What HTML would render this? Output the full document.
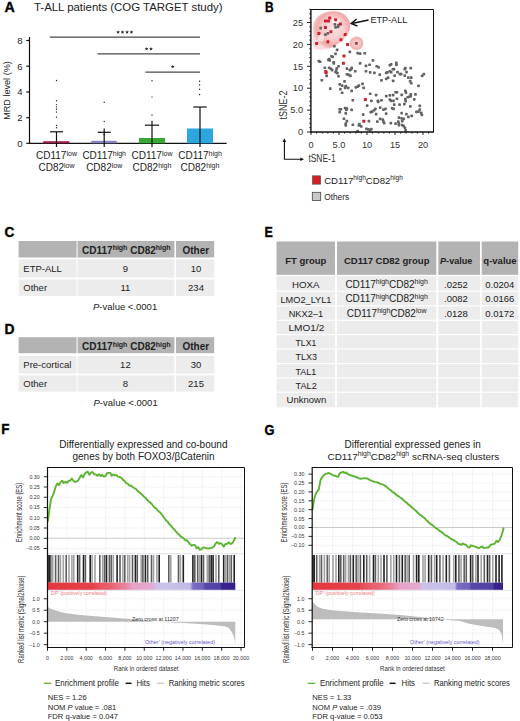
<!DOCTYPE html>
<html><head><meta charset="utf-8">
<style>
html,body{margin:0;padding:0;background:#fff;}
svg{display:block;}
svg{fill:#222;}
text{font-family:"Liberation Sans",sans-serif;}
.b{font-weight:bold;}
.pl{fill:#000;stroke:#000;stroke-width:0.35;}
</style></head><body>
<svg width="520" height="721" viewBox="0 0 520 721">
<!-- PANEL A -->
<g id="A">
<text x="4.4" y="11.9" class="b pl" font-size="14" textLength="10.3" lengthAdjust="spacingAndGlyphs">A</text>
<text x="34" y="10.6" font-size="11" textLength="188.5" lengthAdjust="spacingAndGlyphs">T-ALL patients (COG TARGET study)</text>
<g stroke="#111" stroke-width="1.2" fill="none">
<line x1="29.5" y1="37" x2="29.5" y2="144"/>
<line x1="29" y1="143.4" x2="226.6" y2="143.4"/>
<line x1="26.3" y1="40.5" x2="29.5" y2="40.5"/>
<line x1="26.3" y1="66.2" x2="29.5" y2="66.2"/>
<line x1="26.3" y1="92" x2="29.5" y2="92"/>
<line x1="26.3" y1="117.7" x2="29.5" y2="117.7"/>
<line x1="26.3" y1="143.3" x2="29.5" y2="143.3"/>
</g>
<g font-size="9.5" text-anchor="end">
<text x="22.5" y="43.8">8</text>
<text x="22.5" y="69.5">6</text>
<text x="22.5" y="95.3">4</text>
<text x="22.5" y="121">2</text>
<text x="22.5" y="146.6">0</text>
</g>
<text transform="translate(10.1,90.5) rotate(-90)" font-size="9.3" text-anchor="middle" textLength="58.5" lengthAdjust="spacingAndGlyphs">MRD level (%)</text>
<!-- bars -->
<rect x="43.2" y="141.2" width="26.2" height="2.1" fill="#9e1f4c"/>
<rect x="91.2" y="140.8" width="25.6" height="2.5" fill="#8585c6"/>
<rect x="139" y="138" width="26" height="5.3" fill="#39a935"/>
<rect x="187" y="128.5" width="26" height="14.8" fill="#2ba6df"/>
<!-- error bars -->
<g stroke="#111" stroke-width="1.2">
<line x1="56.5" y1="131.8" x2="56.5" y2="147"/><line x1="50" y1="131.8" x2="63" y2="131.8"/>
<line x1="104.2" y1="128.5" x2="104.2" y2="147"/><line x1="97.7" y1="132.3" x2="110.8" y2="132.3"/>
<line x1="152" y1="120.8" x2="152" y2="147"/><line x1="145" y1="125.2" x2="159" y2="125.2"/>
<line x1="200" y1="107" x2="200" y2="147"/><line x1="193.3" y1="107" x2="206.7" y2="107"/>
</g>
<!-- dots -->
<g fill="#222">
<circle cx="56.5" cy="80.5" r="0.7"/><circle cx="56.5" cy="100.8" r="0.7"/><circle cx="56.5" cy="104.6" r="0.7"/><circle cx="56.5" cy="106.9" r="0.7"/><circle cx="56.5" cy="109.2" r="0.7"/><circle cx="56.5" cy="112" r="0.7"/><circle cx="56.5" cy="117" r="0.7"/><circle cx="56.5" cy="125.4" r="0.7"/><circle cx="56.5" cy="127.7" r="0.7"/>
<circle cx="104.2" cy="102.3" r="0.7"/><circle cx="104.2" cy="121.5" r="0.7"/><circle cx="104.2" cy="134.6" r="0.9"/>
<circle cx="152" cy="80.8" r="0.7"/><circle cx="152" cy="97.1" r="0.7"/><circle cx="152" cy="115" r="0.7"/>
<circle cx="199.6" cy="81.3" r="0.7"/><circle cx="199.6" cy="85" r="0.7"/><circle cx="199.6" cy="89.3" r="0.7"/><circle cx="199.6" cy="94.5" r="0.7"/>
</g>
<!-- significance -->
<g stroke="#4a4a4a" stroke-width="1.3">
<line x1="49.8" y1="37.1" x2="200" y2="37.1"/>
<line x1="97.5" y1="53.8" x2="200" y2="53.8"/>
<line x1="145.4" y1="72.1" x2="200" y2="72.1"/>
</g>
<g fill="#222"><polygon points="118.10,30.20 118.60,31.51 120.00,31.58 118.91,32.46 119.28,33.82 118.10,33.05 116.92,33.82 117.29,32.46 116.20,31.58 117.60,31.51"/><polygon points="122.50,30.20 123.00,31.51 124.40,31.58 123.31,32.46 123.68,33.82 122.50,33.05 121.32,33.82 121.69,32.46 120.60,31.58 122.00,31.51"/><polygon points="127.10,30.20 127.60,31.51 129.00,31.58 127.91,32.46 128.28,33.82 127.10,33.05 125.92,33.82 126.29,32.46 125.20,31.58 126.60,31.51"/><polygon points="131.40,30.20 131.90,31.51 133.30,31.58 132.21,32.46 132.58,33.82 131.40,33.05 130.22,33.82 130.59,32.46 129.50,31.58 130.90,31.51"/><polygon points="146.60,46.90 147.10,48.21 148.50,48.28 147.41,49.16 147.78,50.52 146.60,49.75 145.42,50.52 145.79,49.16 144.70,48.28 146.10,48.21"/><polygon points="151.00,46.90 151.50,48.21 152.90,48.28 151.81,49.16 152.18,50.52 151.00,49.75 149.82,50.52 150.19,49.16 149.10,48.28 150.50,48.21"/><polygon points="172.70,64.70 173.20,66.01 174.60,66.08 173.51,66.96 173.88,68.32 172.70,67.55 171.52,68.32 171.89,66.96 170.80,66.08 172.20,66.01"/></g>
<!-- x labels -->
<g font-size="10" text-anchor="middle">
<text x="56.5" y="159.3">CD117<tspan font-size="7" dy="-3.6">low</tspan></text>
<text x="56.5" y="171.3">CD82<tspan font-size="7" dy="-3.6">low</tspan></text>
<text x="104.2" y="159.3">CD117<tspan font-size="7" dy="-3.6">high</tspan></text>
<text x="104.2" y="171.3">CD82<tspan font-size="7" dy="-3.6">low</tspan></text>
<text x="152" y="159.3">CD117<tspan font-size="7" dy="-3.6">low</tspan></text>
<text x="152" y="171.3">CD82<tspan font-size="7" dy="-3.6">high</tspan></text>
<text x="200" y="159.3">CD117<tspan font-size="7" dy="-3.6">high</tspan></text>
<text x="200" y="171.3">CD82<tspan font-size="7" dy="-3.6">high</tspan></text>
</g>
</g>

<!-- PANEL C -->
<g id="C">
<text x="4.5" y="237.4" class="b pl" font-size="13.8" textLength="9.8" lengthAdjust="spacingAndGlyphs">C</text>
<g fill="#b3b3b3">
<rect x="18.6" y="241" width="58" height="16.5"/>
<rect x="77.6" y="241" width="96.8" height="16.5"/>
<rect x="176" y="241" width="38.2" height="16.5"/>
</g>
<g fill="#ececec">
<rect x="18.6" y="259.3" width="58" height="18.3"/>
<rect x="77.6" y="259.3" width="96.8" height="18.3"/>
<rect x="176" y="259.3" width="38.2" height="18.3"/>
<rect x="18.6" y="279.5" width="58" height="16.5"/>
<rect x="77.6" y="279.5" width="96.8" height="16.5"/>
<rect x="176" y="279.5" width="38.2" height="16.5"/>
</g>
<g font-size="10" class="b" text-anchor="middle">
<text x="126.3" y="253.7">CD117<tspan font-size="7" dy="-3.6">high</tspan><tspan dy="3.6"> CD82</tspan><tspan font-size="7" dy="-3.6">high</tspan></text>
<text x="195.8" y="253.7">Other</text>
</g>
<g font-size="9.5">
<text x="23.3" y="271.9">ETP-ALL</text>
<text x="23.3" y="290.6">Other</text>
</g>
<g font-size="9.5" text-anchor="middle">
<text x="125.4" y="271.9">9</text><text x="196" y="271.9">10</text>
<text x="125.4" y="290.6">11</text><text x="196" y="290.6">234</text>
</g>
<text x="93" y="310.2" font-size="9.5"><tspan font-style="italic">P</tspan>-value &lt;.0001</text>
</g>
<!-- PANEL D -->
<g id="D">
<text x="4.6" y="333.8" class="b pl" font-size="13.8" textLength="10" lengthAdjust="spacingAndGlyphs">D</text>
<g fill="#b3b3b3">
<rect x="18.6" y="337.2" width="58" height="16"/>
<rect x="77.6" y="337.2" width="96.8" height="16"/>
<rect x="176" y="337.2" width="38.2" height="16"/>
</g>
<g fill="#ececec">
<rect x="18.6" y="356" width="58" height="17.5"/>
<rect x="77.6" y="356" width="96.8" height="17.5"/>
<rect x="176" y="356" width="38.2" height="17.5"/>
<rect x="18.6" y="375.3" width="58" height="16.3"/>
<rect x="77.6" y="375.3" width="96.8" height="16.3"/>
<rect x="176" y="375.3" width="38.2" height="16.3"/>
</g>
<g font-size="10" class="b" text-anchor="middle">
<text x="126.3" y="350.2">CD117<tspan font-size="7" dy="-3.6">high</tspan><tspan dy="3.6"> CD82</tspan><tspan font-size="7" dy="-3.6">high</tspan></text>
<text x="195.8" y="350.2">Other</text>
</g>
<g font-size="9.5">
<text x="23.3" y="368">Pre-cortical</text>
<text x="23.3" y="386.8">Other</text>
</g>
<g font-size="9.5" text-anchor="middle">
<text x="125.4" y="368">12</text><text x="196" y="368">30</text>
<text x="125.4" y="386.8">8</text><text x="196" y="386.8">215</text>
</g>
<text x="93.5" y="405.5" font-size="9.5"><tspan font-style="italic">P</tspan>-value &lt;.0001</text>
</g>
<!-- PANEL E -->
<g id="E">
<text x="264.5" y="237.2" class="b pl" font-size="13.8" textLength="8.3" lengthAdjust="spacingAndGlyphs">E</text>
<g fill="#b3b3b3">
<rect x="276.5" y="241.5" width="58.5" height="33.3"/>
<rect x="337" y="241.5" width="99.3" height="33.3"/>
<rect x="438.3" y="241.5" width="41.7" height="33.3"/>
<rect x="481.7" y="241.5" width="36.5" height="33.3"/>
</g>
<g fill="#ececec" id="erows">
<rect x="276.5" y="276.3" width="58.5" height="14.3"/>
<rect x="337" y="276.3" width="99.3" height="14.3"/>
<rect x="438.3" y="276.3" width="41.7" height="14.3"/>
<rect x="481.7" y="276.3" width="36.5" height="14.3"/>
<rect x="276.5" y="291.8" width="58.5" height="13.4"/>
<rect x="337" y="291.8" width="99.3" height="13.4"/>
<rect x="438.3" y="291.8" width="41.7" height="13.4"/>
<rect x="481.7" y="291.8" width="36.5" height="13.4"/>
<rect x="276.5" y="306.4" width="58.5" height="13.3"/>
<rect x="337" y="306.4" width="99.3" height="13.3"/>
<rect x="438.3" y="306.4" width="41.7" height="13.3"/>
<rect x="481.7" y="306.4" width="36.5" height="13.3"/>
<rect x="276.5" y="320.9" width="58.5" height="13.1"/>
<rect x="337" y="320.9" width="99.3" height="13.1"/>
<rect x="438.3" y="320.9" width="41.7" height="13.1"/>
<rect x="481.7" y="320.9" width="36.5" height="13.1"/>
<rect x="276.5" y="335.2" width="58.5" height="13.2"/>
<rect x="337" y="335.2" width="99.3" height="13.2"/>
<rect x="438.3" y="335.2" width="41.7" height="13.2"/>
<rect x="481.7" y="335.2" width="36.5" height="13.2"/>
<rect x="276.5" y="349.6" width="58.5" height="13.4"/>
<rect x="337" y="349.6" width="99.3" height="13.4"/>
<rect x="438.3" y="349.6" width="41.7" height="13.4"/>
<rect x="481.7" y="349.6" width="36.5" height="13.4"/>
<rect x="276.5" y="364.2" width="58.5" height="13.1"/>
<rect x="337" y="364.2" width="99.3" height="13.1"/>
<rect x="438.3" y="364.2" width="41.7" height="13.1"/>
<rect x="481.7" y="364.2" width="36.5" height="13.1"/>
<rect x="276.5" y="378.5" width="58.5" height="13.1"/>
<rect x="337" y="378.5" width="99.3" height="13.1"/>
<rect x="438.3" y="378.5" width="41.7" height="13.1"/>
<rect x="481.7" y="378.5" width="36.5" height="13.1"/>
<rect x="276.5" y="392.8" width="58.5" height="14.5"/>
<rect x="337" y="392.8" width="99.3" height="14.5"/>
<rect x="438.3" y="392.8" width="41.7" height="14.5"/>
<rect x="481.7" y="392.8" width="36.5" height="14.5"/>
</g>
<g font-size="9.5" class="b" text-anchor="middle">
<text x="305.8" y="263.5">FT group</text>
<text x="386.7" y="263.5">CD117 CD82 group</text>
<text x="456.2" y="263.5" textLength="32.3" lengthAdjust="spacingAndGlyphs"><tspan font-style="italic">P</tspan>-value</text>
<text x="500" y="263.5">q-value</text>
</g>
<g font-size="9.7" text-anchor="middle">
<text x="305.8" y="288.1" textLength="27.5" lengthAdjust="spacingAndGlyphs">HOXA</text>
<text x="306" y="302.5" textLength="51" lengthAdjust="spacingAndGlyphs">LMO2_LYL1</text>
<text x="305.9" y="316.9" textLength="34.4" lengthAdjust="spacingAndGlyphs">NKX2–1</text>
<text x="306.4" y="331.25" textLength="35.9" lengthAdjust="spacingAndGlyphs">LMO1/2</text>
<text x="305.9" y="345.6" textLength="20.6" lengthAdjust="spacingAndGlyphs">TLX1</text>
<text x="306.2" y="360" textLength="21.3" lengthAdjust="spacingAndGlyphs">TLX3</text>
<text x="305.9" y="374.75" textLength="20.6" lengthAdjust="spacingAndGlyphs">TAL1</text>
<text x="306.2" y="388.75" textLength="21.3" lengthAdjust="spacingAndGlyphs">TAL2</text>
<text x="306.4" y="403.1" textLength="39.75" lengthAdjust="spacingAndGlyphs">Unknown</text>
</g>
<g font-size="10" text-anchor="middle">
<text x="386.6" y="288">CD117<tspan font-size="7" dy="-3.6">high</tspan><tspan dy="3.6">CD82</tspan><tspan font-size="7" dy="-3.6">high</tspan></text>
<text x="386.6" y="302.3">CD117<tspan font-size="7" dy="-3.6">high</tspan><tspan dy="3.6">CD82</tspan><tspan font-size="7" dy="-3.6">high</tspan></text>
<text x="386.6" y="317">CD117<tspan font-size="7" dy="-3.6">high</tspan><tspan dy="3.6">CD82</tspan><tspan font-size="7" dy="-3.6">low</tspan></text>
</g>
<g font-size="9.5" text-anchor="middle">
<text x="456" y="288">.0252</text><text x="499.8" y="288">0.0204</text>
<text x="456" y="302.3">.0082</text><text x="499.8" y="302.3">0.0166</text>
<text x="456" y="317">.0128</text><text x="499.8" y="317">0.0172</text>
</g>
</g>
<!-- PANEL B -->
<g id="B">
<defs><radialGradient id="blobg" cx="0.55" cy="0.45" r="0.55"><stop offset="0" stop-color="#fbe4e4"/><stop offset="0.5" stop-color="#f8cdcd"/><stop offset="0.78" stop-color="#f3aaaa"/><stop offset="0.9" stop-color="#f5baba"/><stop offset="1" stop-color="#fbdcdc"/></radialGradient><filter id="bl1" x="-0.2" y="-0.2" width="1.4" height="1.4"><feGaussianBlur stdDeviation="0.6"/></filter>
<radialGradient id="blobs" cx="0.5" cy="0.5" r="0.5"><stop offset="0" stop-color="#f8d0d0"/><stop offset="0.6" stop-color="#f6c0c0"/><stop offset="0.85" stop-color="#f2aaaa"/><stop offset="1" stop-color="#fadada"/></radialGradient></defs>
<text x="264.9" y="11.9" class="b pl" font-size="13.8" textLength="8.6" lengthAdjust="spacingAndGlyphs">B</text>
<path d="M312.6 29 C312.6 16, 324 11.2, 333.5 11.2 C343.5 11.2, 350.3 17.5, 350.3 26 C350.3 33.5, 343.5 39.5, 337 44.5 C331 49, 325 50, 318.5 49.8 C313.5 49.6, 312.6 45.5, 312.6 38 Z" fill="url(#blobg)" filter="url(#bl1)"/>
<g fill="#fff" opacity="0.6" filter="url(#bl1)"><ellipse cx="336" cy="21" rx="4" ry="3"/><ellipse cx="321" cy="38" rx="3" ry="3.5"/></g>
<circle cx="356.5" cy="43.3" r="7" fill="url(#blobs)" filter="url(#bl1)"/>
<g fill="#636363"><rect x="319.3" y="26.8" width="2.7" height="2.7" rx="0.7"/><rect x="334.2" y="26.1" width="2.7" height="2.7" rx="0.7"/><rect x="336.6" y="25.5" width="2.7" height="2.7" rx="0.7"/><rect x="337.2" y="23.8" width="2.7" height="2.7" rx="0.7"/><rect x="324.1" y="33.2" width="2.7" height="2.7" rx="0.7"/><rect x="326.5" y="32.0" width="2.7" height="2.7" rx="0.7"/><rect x="333.6" y="23.1" width="2.7" height="2.7" rx="0.7"/><rect x="333.0" y="44.9" width="2.7" height="2.7" rx="0.7"/><rect x="335.8" y="48.6" width="2.7" height="2.7" rx="0.7"/><rect x="334.2" y="52.5" width="2.7" height="2.7" rx="0.7"/><rect x="348.5" y="50.5" width="2.7" height="2.7" rx="0.7"/><rect x="356.3" y="51.8" width="2.7" height="2.7" rx="0.7"/><rect x="358.8" y="52.2" width="2.7" height="2.7" rx="0.7"/><rect x="363.4" y="51.9" width="2.7" height="2.7" rx="0.7"/><rect x="330.1" y="54.9" width="2.7" height="2.7" rx="0.7"/><rect x="331.3" y="55.5" width="2.7" height="2.7" rx="0.7"/><rect x="327.8" y="57.8" width="2.7" height="2.7" rx="0.7"/><rect x="327.1" y="58.5" width="2.7" height="2.7" rx="0.7"/><rect x="328.3" y="59.1" width="2.7" height="2.7" rx="0.7"/><rect x="317.5" y="59.8" width="2.7" height="2.7" rx="0.7"/><rect x="318.8" y="60.4" width="2.7" height="2.7" rx="0.7"/><rect x="332.4" y="60.9" width="2.7" height="2.7" rx="0.7"/><rect x="332.4" y="62.1" width="2.7" height="2.7" rx="0.7"/><rect x="358.8" y="62.1" width="2.7" height="2.7" rx="0.7"/><rect x="364.6" y="64.6" width="2.7" height="2.7" rx="0.7"/><rect x="368.2" y="63.4" width="2.7" height="2.7" rx="0.7"/><rect x="337.2" y="64.9" width="2.7" height="2.7" rx="0.7"/><rect x="323.5" y="66.4" width="2.7" height="2.7" rx="0.7"/><rect x="327.8" y="66.4" width="2.7" height="2.7" rx="0.7"/><rect x="329.5" y="67.5" width="2.7" height="2.7" rx="0.7"/><rect x="330.8" y="68.7" width="2.7" height="2.7" rx="0.7"/><rect x="335.4" y="67.0" width="2.7" height="2.7" rx="0.7"/><rect x="334.8" y="69.2" width="2.7" height="2.7" rx="0.7"/><rect x="336.0" y="71.7" width="2.7" height="2.7" rx="0.7"/><rect x="345.6" y="67.2" width="2.7" height="2.7" rx="0.7"/><rect x="350.3" y="66.4" width="2.7" height="2.7" rx="0.7"/><rect x="349.8" y="68.1" width="2.7" height="2.7" rx="0.7"/><rect x="348.5" y="68.7" width="2.7" height="2.7" rx="0.7"/><rect x="353.9" y="69.9" width="2.7" height="2.7" rx="0.7"/><rect x="364.6" y="69.9" width="2.7" height="2.7" rx="0.7"/><rect x="368.8" y="71.1" width="2.7" height="2.7" rx="0.7"/><rect x="345.6" y="72.9" width="2.7" height="2.7" rx="0.7"/><rect x="347.4" y="73.5" width="2.7" height="2.7" rx="0.7"/><rect x="349.1" y="74.5" width="2.7" height="2.7" rx="0.7"/><rect x="337.2" y="74.9" width="2.7" height="2.7" rx="0.7"/><rect x="325.3" y="74.5" width="2.7" height="2.7" rx="0.7"/><rect x="320.5" y="78.9" width="2.7" height="2.7" rx="0.7"/><rect x="343.2" y="80.1" width="2.7" height="2.7" rx="0.7"/><rect x="338.4" y="83.0" width="2.7" height="2.7" rx="0.7"/><rect x="340.8" y="84.2" width="2.7" height="2.7" rx="0.7"/><rect x="344.4" y="84.8" width="2.7" height="2.7" rx="0.7"/><rect x="343.8" y="86.6" width="2.7" height="2.7" rx="0.7"/><rect x="346.8" y="86.6" width="2.7" height="2.7" rx="0.7"/><rect x="357.5" y="84.2" width="2.7" height="2.7" rx="0.7"/><rect x="361.1" y="82.5" width="2.7" height="2.7" rx="0.7"/><rect x="354.5" y="86.0" width="2.7" height="2.7" rx="0.7"/><rect x="356.3" y="85.2" width="2.7" height="2.7" rx="0.7"/><rect x="362.3" y="86.6" width="2.7" height="2.7" rx="0.7"/><rect x="328.9" y="87.2" width="2.7" height="2.7" rx="0.7"/><rect x="339.0" y="87.8" width="2.7" height="2.7" rx="0.7"/><rect x="350.3" y="89.6" width="2.7" height="2.7" rx="0.7"/><rect x="340.8" y="91.4" width="2.7" height="2.7" rx="0.7"/><rect x="334.2" y="70.9" width="2.7" height="2.7" rx="0.7"/><rect x="368.8" y="92.4" width="2.7" height="2.7" rx="0.7"/><rect x="351.5" y="98.9" width="2.7" height="2.7" rx="0.7"/><rect x="365.8" y="104.2" width="2.7" height="2.7" rx="0.7"/><rect x="370.0" y="99.5" width="2.7" height="2.7" rx="0.7"/><rect x="338.4" y="107.9" width="2.7" height="2.7" rx="0.7"/><rect x="339.6" y="107.9" width="2.7" height="2.7" rx="0.7"/><rect x="343.8" y="106.7" width="2.7" height="2.7" rx="0.7"/><rect x="345.0" y="108.5" width="2.7" height="2.7" rx="0.7"/><rect x="345.6" y="107.2" width="2.7" height="2.7" rx="0.7"/><rect x="350.3" y="108.5" width="2.7" height="2.7" rx="0.7"/><rect x="338.4" y="110.8" width="2.7" height="2.7" rx="0.7"/><rect x="344.4" y="112.0" width="2.7" height="2.7" rx="0.7"/><rect x="361.8" y="113.2" width="2.7" height="2.7" rx="0.7"/><rect x="369.4" y="110.8" width="2.7" height="2.7" rx="0.7"/><rect x="342.6" y="117.4" width="2.7" height="2.7" rx="0.7"/><rect x="345.6" y="119.8" width="2.7" height="2.7" rx="0.7"/><rect x="344.4" y="122.2" width="2.7" height="2.7" rx="0.7"/><rect x="344.4" y="124.0" width="2.7" height="2.7" rx="0.7"/><rect x="351.5" y="123.4" width="2.7" height="2.7" rx="0.7"/><rect x="357.5" y="124.0" width="2.7" height="2.7" rx="0.7"/><rect x="358.1" y="122.8" width="2.7" height="2.7" rx="0.7"/><rect x="359.9" y="125.1" width="2.7" height="2.7" rx="0.7"/><rect x="367.6" y="119.8" width="2.7" height="2.7" rx="0.7"/><rect x="365.2" y="127.5" width="2.7" height="2.7" rx="0.7"/><rect x="367.0" y="128.1" width="2.7" height="2.7" rx="0.7"/><rect x="368.8" y="128.7" width="2.7" height="2.7" rx="0.7"/><rect x="356.3" y="129.8" width="2.7" height="2.7" rx="0.7"/><rect x="371.6" y="59.1" width="2.7" height="2.7" rx="0.7"/><rect x="375.4" y="64.9" width="2.7" height="2.7" rx="0.7"/><rect x="377.2" y="66.1" width="2.7" height="2.7" rx="0.7"/><rect x="388.5" y="63.9" width="2.7" height="2.7" rx="0.7"/><rect x="389.8" y="63.1" width="2.7" height="2.7" rx="0.7"/><rect x="395.0" y="61.4" width="2.7" height="2.7" rx="0.7"/><rect x="395.0" y="63.6" width="2.7" height="2.7" rx="0.7"/><rect x="404.0" y="66.7" width="2.7" height="2.7" rx="0.7"/><rect x="403.4" y="67.9" width="2.7" height="2.7" rx="0.7"/><rect x="409.4" y="66.7" width="2.7" height="2.7" rx="0.7"/><rect x="373.0" y="71.5" width="2.7" height="2.7" rx="0.7"/><rect x="378.4" y="73.2" width="2.7" height="2.7" rx="0.7"/><rect x="384.9" y="71.5" width="2.7" height="2.7" rx="0.7"/><rect x="386.1" y="70.9" width="2.7" height="2.7" rx="0.7"/><rect x="388.5" y="69.9" width="2.7" height="2.7" rx="0.7"/><rect x="389.8" y="70.9" width="2.7" height="2.7" rx="0.7"/><rect x="391.5" y="67.9" width="2.7" height="2.7" rx="0.7"/><rect x="392.6" y="67.7" width="2.7" height="2.7" rx="0.7"/><rect x="396.2" y="70.7" width="2.7" height="2.7" rx="0.7"/><rect x="398.6" y="72.7" width="2.7" height="2.7" rx="0.7"/><rect x="399.8" y="72.7" width="2.7" height="2.7" rx="0.7"/><rect x="405.2" y="70.7" width="2.7" height="2.7" rx="0.7"/><rect x="393.3" y="74.2" width="2.7" height="2.7" rx="0.7"/><rect x="403.4" y="74.2" width="2.7" height="2.7" rx="0.7"/><rect x="407.0" y="76.2" width="2.7" height="2.7" rx="0.7"/><rect x="409.9" y="76.2" width="2.7" height="2.7" rx="0.7"/><rect x="384.9" y="77.5" width="2.7" height="2.7" rx="0.7"/><rect x="386.8" y="76.2" width="2.7" height="2.7" rx="0.7"/><rect x="380.1" y="79.0" width="2.7" height="2.7" rx="0.7"/><rect x="391.8" y="79.5" width="2.7" height="2.7" rx="0.7"/><rect x="408.8" y="79.8" width="2.7" height="2.7" rx="0.7"/><rect x="409.9" y="81.9" width="2.7" height="2.7" rx="0.7"/><rect x="420.8" y="74.5" width="2.7" height="2.7" rx="0.7"/><rect x="422.5" y="72.7" width="2.7" height="2.7" rx="0.7"/><rect x="417.1" y="84.6" width="2.7" height="2.7" rx="0.7"/><rect x="374.8" y="93.8" width="2.7" height="2.7" rx="0.7"/><rect x="384.9" y="94.7" width="2.7" height="2.7" rx="0.7"/><rect x="388.5" y="94.1" width="2.7" height="2.7" rx="0.7"/><rect x="391.8" y="93.8" width="2.7" height="2.7" rx="0.7"/><rect x="394.4" y="90.9" width="2.7" height="2.7" rx="0.7"/><rect x="395.6" y="90.9" width="2.7" height="2.7" rx="0.7"/><rect x="400.4" y="93.5" width="2.7" height="2.7" rx="0.7"/><rect x="404.0" y="89.4" width="2.7" height="2.7" rx="0.7"/><rect x="404.6" y="91.2" width="2.7" height="2.7" rx="0.7"/><rect x="409.4" y="93.0" width="2.7" height="2.7" rx="0.7"/><rect x="409.4" y="94.7" width="2.7" height="2.7" rx="0.7"/><rect x="414.1" y="93.0" width="2.7" height="2.7" rx="0.7"/><rect x="406.4" y="95.9" width="2.7" height="2.7" rx="0.7"/><rect x="404.0" y="97.7" width="2.7" height="2.7" rx="0.7"/><rect x="412.9" y="98.0" width="2.7" height="2.7" rx="0.7"/><rect x="395.6" y="97.4" width="2.7" height="2.7" rx="0.7"/><rect x="376.6" y="99.5" width="2.7" height="2.7" rx="0.7"/><rect x="380.1" y="98.9" width="2.7" height="2.7" rx="0.7"/><rect x="388.5" y="98.2" width="2.7" height="2.7" rx="0.7"/><rect x="389.8" y="99.5" width="2.7" height="2.7" rx="0.7"/><rect x="392.1" y="99.5" width="2.7" height="2.7" rx="0.7"/><rect x="407.8" y="95.4" width="2.7" height="2.7" rx="0.7"/><rect x="376.8" y="100.5" width="2.7" height="2.7" rx="0.7"/><rect x="404.3" y="99.7" width="2.7" height="2.7" rx="0.7"/><rect x="392.9" y="103.2" width="2.7" height="2.7" rx="0.7"/><rect x="398.2" y="103.2" width="2.7" height="2.7" rx="0.7"/><rect x="403.0" y="102.8" width="2.7" height="2.7" rx="0.7"/><rect x="409.0" y="105.1" width="2.7" height="2.7" rx="0.7"/><rect x="418.4" y="104.6" width="2.7" height="2.7" rx="0.7"/><rect x="418.4" y="108.2" width="2.7" height="2.7" rx="0.7"/><rect x="417.1" y="110.2" width="2.7" height="2.7" rx="0.7"/><rect x="419.8" y="111.6" width="2.7" height="2.7" rx="0.7"/><rect x="420.5" y="113.6" width="2.7" height="2.7" rx="0.7"/><rect x="415.1" y="110.5" width="2.7" height="2.7" rx="0.7"/><rect x="374.0" y="107.5" width="2.7" height="2.7" rx="0.7"/><rect x="372.8" y="108.9" width="2.7" height="2.7" rx="0.7"/><rect x="370.8" y="110.2" width="2.7" height="2.7" rx="0.7"/><rect x="378.8" y="106.2" width="2.7" height="2.7" rx="0.7"/><rect x="382.1" y="108.2" width="2.7" height="2.7" rx="0.7"/><rect x="384.1" y="107.5" width="2.7" height="2.7" rx="0.7"/><rect x="390.8" y="106.9" width="2.7" height="2.7" rx="0.7"/><rect x="392.2" y="107.5" width="2.7" height="2.7" rx="0.7"/><rect x="374.8" y="112.7" width="2.7" height="2.7" rx="0.7"/><rect x="384.8" y="112.2" width="2.7" height="2.7" rx="0.7"/><rect x="400.3" y="111.8" width="2.7" height="2.7" rx="0.7"/><rect x="405.0" y="112.7" width="2.7" height="2.7" rx="0.7"/><rect x="407.0" y="115.6" width="2.7" height="2.7" rx="0.7"/><rect x="410.4" y="114.5" width="2.7" height="2.7" rx="0.7"/><rect x="397.6" y="116.2" width="2.7" height="2.7" rx="0.7"/><rect x="400.3" y="117.0" width="2.7" height="2.7" rx="0.7"/><rect x="402.3" y="117.6" width="2.7" height="2.7" rx="0.7"/><rect x="376.0" y="120.2" width="2.7" height="2.7" rx="0.7"/><rect x="378.8" y="117.6" width="2.7" height="2.7" rx="0.7"/><rect x="381.4" y="118.2" width="2.7" height="2.7" rx="0.7"/><rect x="382.1" y="120.2" width="2.7" height="2.7" rx="0.7"/><rect x="382.8" y="121.7" width="2.7" height="2.7" rx="0.7"/><rect x="389.5" y="121.7" width="2.7" height="2.7" rx="0.7"/><rect x="394.2" y="122.2" width="2.7" height="2.7" rx="0.7"/><rect x="396.9" y="120.2" width="2.7" height="2.7" rx="0.7"/><rect x="397.6" y="122.2" width="2.7" height="2.7" rx="0.7"/><rect x="397.6" y="123.7" width="2.7" height="2.7" rx="0.7"/><rect x="400.9" y="119.7" width="2.7" height="2.7" rx="0.7"/><rect x="400.9" y="123.7" width="2.7" height="2.7" rx="0.7"/><rect x="402.3" y="124.8" width="2.7" height="2.7" rx="0.7"/><rect x="403.6" y="126.4" width="2.7" height="2.7" rx="0.7"/><rect x="404.3" y="129.1" width="2.7" height="2.7" rx="0.7"/><rect x="370.0" y="127.7" width="2.7" height="2.7" rx="0.7"/></g>
<g fill="#cf1f2f"><rect x="328.2" y="16.4" width="3" height="3" rx="0.6"/><rect x="324.0" y="19.4" width="3" height="3" rx="0.6"/><rect x="327.0" y="19.4" width="3" height="3" rx="0.6"/><rect x="334.1" y="18.2" width="3" height="3" rx="0.6"/><rect x="338.9" y="22.4" width="3" height="3" rx="0.6"/><rect x="324.0" y="26.0" width="3" height="3" rx="0.6"/><rect x="329.4" y="30.2" width="3" height="3" rx="0.6"/><rect x="317.4" y="31.9" width="3" height="3" rx="0.6"/><rect x="343.7" y="33.1" width="3" height="3" rx="0.6"/><rect x="339.5" y="38.3" width="3" height="3" rx="0.6"/><rect x="326.4" y="40.3" width="3" height="3" rx="0.6"/><rect x="315.1" y="42.1" width="3" height="3" rx="0.6"/><rect x="346.1" y="43.0" width="3" height="3" rx="0.6"/><rect x="342.5" y="54.6" width="3" height="3" rx="0.6"/><rect x="341.9" y="61.8" width="3" height="3" rx="0.6"/><rect x="324.3" y="70.0" width="3" height="3" rx="0.6"/><rect x="324.6" y="71.2" width="3" height="3" rx="0.6"/><rect x="363.9" y="97.9" width="3" height="3" rx="0.6"/><rect x="362.3" y="119.7" width="3" height="3" rx="0.6"/></g>
<rect x="355.1" y="42.1" width="2.6" height="2.6" rx="0.6" fill="#8a3a3a"/>
<g stroke="#111" fill="none"><path d="M311 9.5 H433.5 V132" stroke-width="1"/><line x1="310.9" y1="9" x2="310.9" y2="132.7" stroke-width="1.4"/><line x1="310.2" y1="132" x2="434" y2="132" stroke-width="1.4"/></g>
<g stroke="#111" stroke-width="0.9"><line x1="307" y1="132.00" x2="311" y2="132.00"/><line x1="309.3" y1="127.62" x2="311" y2="127.62"/><line x1="309.3" y1="123.24" x2="311" y2="123.24"/><line x1="309.3" y1="118.86" x2="311" y2="118.86"/><line x1="309.3" y1="114.48" x2="311" y2="114.48"/><line x1="307" y1="110.10" x2="311" y2="110.10"/><line x1="309.3" y1="105.72" x2="311" y2="105.72"/><line x1="309.3" y1="101.34" x2="311" y2="101.34"/><line x1="309.3" y1="96.96" x2="311" y2="96.96"/><line x1="309.3" y1="92.58" x2="311" y2="92.58"/><line x1="307" y1="88.20" x2="311" y2="88.20"/><line x1="309.3" y1="83.82" x2="311" y2="83.82"/><line x1="309.3" y1="79.44" x2="311" y2="79.44"/><line x1="309.3" y1="75.06" x2="311" y2="75.06"/><line x1="309.3" y1="70.68" x2="311" y2="70.68"/><line x1="307" y1="66.30" x2="311" y2="66.30"/><line x1="309.3" y1="61.92" x2="311" y2="61.92"/><line x1="309.3" y1="57.54" x2="311" y2="57.54"/><line x1="309.3" y1="53.16" x2="311" y2="53.16"/><line x1="309.3" y1="48.78" x2="311" y2="48.78"/><line x1="307" y1="44.40" x2="311" y2="44.40"/><line x1="309.3" y1="40.02" x2="311" y2="40.02"/><line x1="309.3" y1="35.64" x2="311" y2="35.64"/><line x1="309.3" y1="31.26" x2="311" y2="31.26"/><line x1="309.3" y1="26.88" x2="311" y2="26.88"/><line x1="307" y1="22.50" x2="311" y2="22.50"/><line x1="309.3" y1="18.12" x2="311" y2="18.12"/><line x1="309.3" y1="13.74" x2="311" y2="13.74"/><line x1="309.3" y1="9.36" x2="311" y2="9.36"/><line x1="311.00" y1="132" x2="311.00" y2="135"/><line x1="316.60" y1="132" x2="316.60" y2="133.6"/><line x1="322.20" y1="132" x2="322.20" y2="133.6"/><line x1="327.80" y1="132" x2="327.80" y2="133.6"/><line x1="333.40" y1="132" x2="333.40" y2="133.6"/><line x1="339.00" y1="132" x2="339.00" y2="135"/><line x1="344.60" y1="132" x2="344.60" y2="133.6"/><line x1="350.20" y1="132" x2="350.20" y2="133.6"/><line x1="355.80" y1="132" x2="355.80" y2="133.6"/><line x1="361.40" y1="132" x2="361.40" y2="133.6"/><line x1="367.00" y1="132" x2="367.00" y2="135"/><line x1="372.60" y1="132" x2="372.60" y2="133.6"/><line x1="378.20" y1="132" x2="378.20" y2="133.6"/><line x1="383.80" y1="132" x2="383.80" y2="133.6"/><line x1="389.40" y1="132" x2="389.40" y2="133.6"/><line x1="395.00" y1="132" x2="395.00" y2="135"/><line x1="400.60" y1="132" x2="400.60" y2="133.6"/><line x1="406.20" y1="132" x2="406.20" y2="133.6"/><line x1="411.80" y1="132" x2="411.80" y2="133.6"/><line x1="417.40" y1="132" x2="417.40" y2="133.6"/><line x1="423.00" y1="132" x2="423.00" y2="135"/><line x1="428.60" y1="132" x2="428.60" y2="133.6"/></g>
<g font-size="9.2" text-anchor="end" fill="#333"><text x="303" y="25.70">25</text><text x="303" y="47.60">20</text><text x="303" y="69.50">15</text><text x="303" y="91.40">10</text><text x="303" y="113.30">5.0</text><text x="303" y="135.20">0</text></g>
<g font-size="9.2" text-anchor="middle" fill="#333"><text x="311.00" y="147.7">0</text><text x="339.00" y="147.7">5.0</text><text x="367.00" y="147.7">10</text><text x="395.00" y="147.7">15</text><text x="423.00" y="147.7">20</text></g>
<text transform="translate(287.3,105) rotate(-90)" font-size="10" text-anchor="middle" textLength="29" lengthAdjust="spacingAndGlyphs" fill="#333">tSNE-2</text>
<g stroke="#111" stroke-width="1.1" fill="none"><path d="M284.4 141 V159.2 H301.5"/></g>
<g fill="#111"><path d="M284.4 138.3 L282.6 142 L286.2 142 Z"/><path d="M304 159.2 L300.3 157.4 L300.3 161 Z"/></g>
<text x="308.4" y="161.6" font-size="10" textLength="27.2" lengthAdjust="spacingAndGlyphs" fill="#333">tSNE-1</text>
<text x="370.4" y="23" font-size="9.8" textLength="36.9" lengthAdjust="spacingAndGlyphs" fill="#222">ETP-ALL</text>
<line x1="368.5" y1="20" x2="353" y2="23.3" stroke="#111" stroke-width="1.5"/>
<path d="M356.6 19 L351.2 23.6 L357.4 26" stroke="#111" stroke-width="1.5" fill="none" stroke-linejoin="miter"/>
<rect x="312.3" y="175.8" width="8.4" height="8.4" fill="#d21f26" stroke="#555" stroke-width="0.6"/>
<text x="324.2" y="183.8" font-size="9.6" fill="#222">CD117<tspan font-size="6.6" dy="-3.6">high</tspan><tspan dy="3.6">CD82</tspan><tspan font-size="6.6" dy="-3.6">high</tspan></text>
<rect x="312.3" y="192.3" width="8.4" height="8.1" fill="#c8c8c8" stroke="#444" stroke-width="0.8"/>
<text x="324.2" y="199.5" font-size="8.3" fill="#222">Others</text>
</g>
<!-- END B -->
<!-- PANELS FG -->
<!-- PANEL F -->
<g id="F">
<text x="1.3" y="434.3" class="b pl" font-size="13.8" textLength="8.2" lengthAdjust="spacingAndGlyphs">F</text>
<text x="59.3" y="448.3" font-size="10.2" textLength="168.2" lengthAdjust="spacingAndGlyphs" fill="#222">Differentially expressed and co-bound</text>
<text x="72.5" y="459.6" font-size="10.2" textLength="142" lengthAdjust="spacingAndGlyphs" fill="#222">genes by both FOXO3/βCatenin</text>
<g stroke="#efefef" stroke-width="0.7"><line x1="66.85" y1="467.5" x2="66.85" y2="553.7"/><line x1="66.85" y1="590.8" x2="66.85" y2="647.5"/><line x1="86.20" y1="467.5" x2="86.20" y2="553.7"/><line x1="86.20" y1="590.8" x2="86.20" y2="647.5"/><line x1="105.55" y1="467.5" x2="105.55" y2="553.7"/><line x1="105.55" y1="590.8" x2="105.55" y2="647.5"/><line x1="124.90" y1="467.5" x2="124.90" y2="553.7"/><line x1="124.90" y1="590.8" x2="124.90" y2="647.5"/><line x1="144.25" y1="467.5" x2="144.25" y2="553.7"/><line x1="144.25" y1="590.8" x2="144.25" y2="647.5"/><line x1="163.60" y1="467.5" x2="163.60" y2="553.7"/><line x1="163.60" y1="590.8" x2="163.60" y2="647.5"/><line x1="182.95" y1="467.5" x2="182.95" y2="553.7"/><line x1="182.95" y1="590.8" x2="182.95" y2="647.5"/><line x1="202.30" y1="467.5" x2="202.30" y2="553.7"/><line x1="202.30" y1="590.8" x2="202.30" y2="647.5"/><line x1="221.65" y1="467.5" x2="221.65" y2="553.7"/><line x1="221.65" y1="590.8" x2="221.65" y2="647.5"/><line x1="241.00" y1="467.5" x2="241.00" y2="553.7"/><line x1="241.00" y1="590.8" x2="241.00" y2="647.5"/><line x1="47.5" y1="476.75" x2="244.5" y2="476.75"/><line x1="47.5" y1="487.00" x2="244.5" y2="487.00"/><line x1="47.5" y1="497.25" x2="244.5" y2="497.25"/><line x1="47.5" y1="507.50" x2="244.5" y2="507.50"/><line x1="47.5" y1="517.75" x2="244.5" y2="517.75"/><line x1="47.5" y1="528.00" x2="244.5" y2="528.00"/><line x1="47.5" y1="548.50" x2="244.5" y2="548.50"/><line x1="47.5" y1="598.75" x2="244.5" y2="598.75"/><line x1="47.5" y1="610.23" x2="244.5" y2="610.23"/><line x1="47.5" y1="633.18" x2="244.5" y2="633.18"/><line x1="47.5" y1="644.65" x2="244.5" y2="644.65"/></g>
<line x1="47.5" y1="538.25" x2="244.5" y2="538.25" stroke="#bdbdbd" stroke-width="0.8"/>
<g stroke="#d8d8e8" stroke-width="0.7"><line x1="47.5" y1="553.7" x2="244.5" y2="553.7"/><line x1="47.5" y1="590.4" x2="244.5" y2="590.4"/></g>
<g><rect x="47.20" y="555" width="1.6" height="27.6" fill="#222222"/><rect x="48.60" y="555" width="1.6" height="27.6" fill="#222222"/><rect x="50.00" y="555" width="1.6" height="27.6" fill="#5e5e5e"/><rect x="51.90" y="555" width="1.6" height="27.6" fill="#a2a2a2"/><rect x="54.80" y="555" width="1.6" height="27.6" fill="#5e5e5e"/><rect x="57.70" y="555" width="1.6" height="27.6" fill="#5e5e5e"/><rect x="59.60" y="555" width="1.6" height="27.6" fill="#a2a2a2"/><rect x="62.50" y="555" width="1.6" height="27.6" fill="#a2a2a2"/><rect x="65.40" y="555" width="1.6" height="27.6" fill="#5e5e5e"/><rect x="68.20" y="555" width="1.6" height="27.6" fill="#a2a2a2"/><rect x="71.10" y="555" width="1.6" height="27.6" fill="#a2a2a2"/><rect x="73.00" y="555" width="1.6" height="27.6" fill="#a2a2a2"/><rect x="76.90" y="555" width="1.6" height="27.6" fill="#222222"/><rect x="78.80" y="555" width="1.6" height="27.6" fill="#5e5e5e"/><rect x="82.70" y="555" width="1.6" height="27.6" fill="#222222"/><rect x="84.60" y="555" width="1.6" height="27.6" fill="#5e5e5e"/><rect x="89.40" y="555" width="1.6" height="27.6" fill="#222222"/><rect x="91.30" y="555" width="1.6" height="27.6" fill="#a2a2a2"/><rect x="94.20" y="555" width="1.6" height="27.6" fill="#a2a2a2"/><rect x="99.00" y="555" width="1.6" height="27.6" fill="#5e5e5e"/><rect x="101.90" y="555" width="1.6" height="27.6" fill="#a2a2a2"/><rect x="103.80" y="555" width="1.6" height="27.6" fill="#5e5e5e"/><rect x="105.70" y="555" width="1.6" height="27.6" fill="#222222"/><rect x="108.60" y="555" width="1.6" height="27.6" fill="#5e5e5e"/><rect x="110.50" y="555" width="1.6" height="27.6" fill="#5e5e5e"/><rect x="112.50" y="555" width="1.6" height="27.6" fill="#a2a2a2"/><rect x="116.30" y="555" width="1.6" height="27.6" fill="#222222"/><rect x="119.20" y="555" width="1.6" height="27.6" fill="#5e5e5e"/><rect x="122.10" y="555" width="1.6" height="27.6" fill="#a2a2a2"/><rect x="124.00" y="555" width="1.6" height="27.6" fill="#5e5e5e"/><rect x="126.90" y="555" width="1.6" height="27.6" fill="#a2a2a2"/><rect x="128.80" y="555" width="1.6" height="27.6" fill="#a2a2a2"/><rect x="131.70" y="555" width="1.6" height="27.6" fill="#5e5e5e"/><rect x="134.60" y="555" width="1.6" height="27.6" fill="#222222"/><rect x="136.50" y="555" width="1.6" height="27.6" fill="#5e5e5e"/><rect x="140.40" y="555" width="1.6" height="27.6" fill="#a2a2a2"/><rect x="142.10" y="555" width="1.6" height="27.6" fill="#5e5e5e"/><rect x="144.60" y="555" width="1.6" height="27.6" fill="#222222"/><rect x="146.90" y="555" width="1.6" height="27.6" fill="#5e5e5e"/><rect x="150.70" y="555" width="1.6" height="27.6" fill="#5e5e5e"/><rect x="152.70" y="555" width="1.6" height="27.6" fill="#a2a2a2"/><rect x="156.10" y="555" width="1.6" height="27.6" fill="#a2a2a2"/><rect x="158.40" y="555" width="1.6" height="27.6" fill="#222222"/><rect x="168.00" y="555" width="1.6" height="27.6" fill="#5e5e5e"/><rect x="170.00" y="555" width="1.6" height="27.6" fill="#a2a2a2"/><rect x="177.70" y="555" width="1.6" height="27.6" fill="#5e5e5e"/><rect x="179.60" y="555" width="1.6" height="27.6" fill="#a2a2a2"/><rect x="182.50" y="555" width="1.6" height="27.6" fill="#222222"/><rect x="192.10" y="555" width="1.6" height="27.6" fill="#222222"/><rect x="194.00" y="555" width="1.6" height="27.6" fill="#5e5e5e"/><rect x="196.90" y="555" width="1.6" height="27.6" fill="#5e5e5e"/><rect x="198.80" y="555" width="1.6" height="27.6" fill="#a2a2a2"/><rect x="200.70" y="555" width="1.6" height="27.6" fill="#222222"/><rect x="202.70" y="555" width="1.6" height="27.6" fill="#5e5e5e"/><rect x="206.50" y="555" width="1.6" height="27.6" fill="#a2a2a2"/><rect x="208.40" y="555" width="1.6" height="27.6" fill="#5e5e5e"/><rect x="210.40" y="555" width="1.6" height="27.6" fill="#222222"/><rect x="212.30" y="555" width="1.6" height="27.6" fill="#222222"/><rect x="215.20" y="555" width="1.6" height="27.6" fill="#a2a2a2"/><rect x="218.00" y="555" width="1.6" height="27.6" fill="#5e5e5e"/><rect x="222.90" y="555" width="1.6" height="27.6" fill="#222222"/><rect x="224.80" y="555" width="1.6" height="27.6" fill="#a2a2a2"/><rect x="226.70" y="555" width="1.6" height="27.6" fill="#5e5e5e"/><rect x="228.60" y="555" width="1.6" height="27.6" fill="#a2a2a2"/><rect x="230.50" y="555" width="1.6" height="27.6" fill="#5e5e5e"/><rect x="233.40" y="555" width="1.6" height="27.6" fill="#222222"/></g>
<defs><linearGradient id="cbF" x1="0" x2="1" y1="0" y2="0"><stop offset="0.000" stop-color="#e5363e"/><stop offset="0.242" stop-color="#e6424b"/><stop offset="0.280" stop-color="#e75560"/><stop offset="0.343" stop-color="#e86474"/><stop offset="0.413" stop-color="#e8849c"/><stop offset="0.455" stop-color="#e8a2c6"/><stop offset="0.556" stop-color="#e4aad0"/><stop offset="0.578" stop-color="#cbc3ea"/><stop offset="0.759" stop-color="#c2bbe6"/><stop offset="0.775" stop-color="#7c6cc2"/><stop offset="0.828" stop-color="#7060ba"/><stop offset="0.839" stop-color="#5746a8"/><stop offset="0.919" stop-color="#5242a4"/><stop offset="0.929" stop-color="#3c248f"/><stop offset="1.000" stop-color="#361f8c"/></linearGradient></defs>
<rect x="47.5" y="582.6" width="187.80" height="7.20" fill="url(#cbF)"/>
<path d="M47.50 621.70 L47.50 605.20 L48.00 606.35 L48.50 607.50 L49.00 607.83 L49.50 608.17 L50.00 608.50 L50.50 608.68 L51.00 608.86 L51.50 609.04 L52.00 609.22 L52.50 609.40 L53.00 609.58 L53.50 609.76 L54.00 609.94 L54.50 610.12 L55.00 610.30 L55.50 610.45 L56.00 610.60 L56.50 610.75 L57.00 610.90 L57.50 611.05 L58.00 611.20 L58.50 611.35 L59.00 611.50 L59.50 611.65 L60.00 611.80 L60.50 611.92 L61.00 612.03 L61.50 612.15 L62.00 612.27 L62.50 612.38 L63.00 612.50 L63.50 612.62 L64.00 612.73 L64.50 612.85 L65.00 612.97 L65.50 613.08 L66.00 613.20 L66.50 613.27 L67.00 613.33 L67.50 613.40 L68.00 613.47 L68.50 613.53 L69.00 613.60 L69.50 613.67 L70.00 613.73 L70.50 613.80 L71.00 613.87 L71.50 613.93 L72.00 614.00 L72.50 614.07 L73.00 614.13 L73.50 614.20 L74.00 614.27 L74.50 614.33 L75.00 614.40 L75.50 614.45 L76.00 614.50 L76.50 614.55 L77.00 614.60 L77.50 614.65 L78.00 614.70 L78.50 614.75 L79.00 614.80 L79.50 614.85 L80.00 614.90 L80.50 614.95 L81.00 615.00 L81.50 615.05 L82.00 615.10 L82.50 615.15 L83.00 615.20 L83.50 615.25 L84.00 615.30 L84.50 615.35 L85.00 615.40 L85.50 615.45 L86.00 615.50 L86.50 615.54 L87.00 615.58 L87.50 615.62 L88.00 615.66 L88.50 615.70 L89.00 615.74 L89.50 615.77 L90.00 615.81 L90.50 615.85 L91.00 615.89 L91.50 615.93 L92.00 615.97 L92.50 616.01 L93.00 616.05 L93.50 616.09 L94.00 616.13 L94.50 616.17 L95.00 616.21 L95.50 616.25 L96.00 616.29 L96.50 616.33 L97.00 616.36 L97.50 616.40 L98.00 616.44 L98.50 616.48 L99.00 616.52 L99.50 616.56 L100.00 616.60 L100.50 616.64 L101.00 616.68 L101.50 616.72 L102.00 616.76 L102.50 616.80 L103.00 616.84 L103.50 616.88 L104.00 616.92 L104.50 616.96 L105.00 617.00 L105.50 617.04 L106.00 617.08 L106.50 617.12 L107.00 617.16 L107.50 617.20 L108.00 617.24 L108.50 617.28 L109.00 617.32 L109.50 617.36 L110.00 617.40 L110.50 617.44 L111.00 617.48 L111.50 617.52 L112.00 617.56 L112.50 617.60 L113.00 617.64 L113.50 617.68 L114.00 617.72 L114.50 617.76 L115.00 617.80 L115.50 617.84 L116.00 617.88 L116.50 617.92 L117.00 617.96 L117.50 618.00 L118.00 618.04 L118.50 618.08 L119.00 618.12 L119.50 618.16 L120.00 618.20 L120.50 618.24 L121.00 618.28 L121.50 618.32 L122.00 618.36 L122.50 618.40 L123.00 618.44 L123.50 618.48 L124.00 618.52 L124.50 618.56 L125.00 618.60 L125.50 618.64 L126.00 618.68 L126.50 618.72 L127.00 618.76 L127.50 618.80 L128.00 618.84 L128.50 618.88 L129.00 618.92 L129.50 618.96 L130.00 619.00 L130.50 619.04 L131.00 619.08 L131.50 619.12 L132.00 619.16 L132.50 619.20 L133.00 619.24 L133.50 619.28 L134.00 619.32 L134.50 619.36 L135.00 619.40 L135.50 619.44 L136.00 619.48 L136.50 619.52 L137.00 619.56 L137.50 619.60 L138.00 619.64 L138.50 619.68 L139.00 619.72 L139.50 619.76 L140.00 619.80 L140.50 619.86 L141.00 619.92 L141.50 619.98 L142.00 620.04 L142.50 620.10 L143.00 620.17 L143.50 620.23 L144.00 620.29 L144.50 620.35 L145.00 620.41 L145.50 620.47 L146.00 620.53 L146.50 620.59 L147.00 620.65 L147.50 620.71 L148.00 620.77 L148.50 620.84 L149.00 620.90 L149.50 620.96 L150.00 621.02 L150.50 621.08 L151.00 621.14 L151.50 621.20 L152.00 621.26 L152.50 621.32 L153.00 621.38 L153.50 621.44 L154.00 621.51 L154.50 621.57 L155.00 621.63 L155.50 621.69 L156.00 621.72 L156.50 621.74 L157.00 621.76 L157.50 621.79 L158.00 621.81 L158.50 621.83 L159.00 621.85 L159.50 621.88 L160.00 621.90 L160.50 621.92 L161.00 621.94 L161.50 621.97 L162.00 621.99 L162.50 622.01 L163.00 622.03 L163.50 622.06 L164.00 622.08 L164.50 622.10 L165.00 622.12 L165.50 622.15 L166.00 622.17 L166.50 622.19 L167.00 622.21 L167.50 622.24 L168.00 622.26 L168.50 622.28 L169.00 622.30 L169.50 622.33 L170.00 622.35 L170.50 622.37 L171.00 622.39 L171.50 622.42 L172.00 622.44 L172.50 622.46 L173.00 622.48 L173.50 622.51 L174.00 622.53 L174.50 622.55 L175.00 622.57 L175.50 622.60 L176.00 622.62 L176.50 622.64 L177.00 622.66 L177.50 622.69 L178.00 622.71 L178.50 622.73 L179.00 622.75 L179.50 622.78 L180.00 622.80 L180.50 622.83 L181.00 622.86 L181.50 622.89 L182.00 622.92 L182.50 622.95 L183.00 622.98 L183.50 623.01 L184.00 623.04 L184.50 623.07 L185.00 623.10 L185.50 623.13 L186.00 623.16 L186.50 623.19 L187.00 623.22 L187.50 623.25 L188.00 623.28 L188.50 623.31 L189.00 623.34 L189.50 623.37 L190.00 623.40 L190.50 623.43 L191.00 623.46 L191.50 623.49 L192.00 623.52 L192.50 623.55 L193.00 623.58 L193.50 623.61 L194.00 623.64 L194.50 623.67 L195.00 623.70 L195.50 623.73 L196.00 623.76 L196.50 623.79 L197.00 623.82 L197.50 623.85 L198.00 623.88 L198.50 623.91 L199.00 623.94 L199.50 623.97 L200.00 624.00 L200.50 624.04 L201.00 624.08 L201.50 624.12 L202.00 624.16 L202.50 624.20 L203.00 624.24 L203.50 624.28 L204.00 624.32 L204.50 624.36 L205.00 624.40 L205.50 624.44 L206.00 624.48 L206.50 624.52 L207.00 624.56 L207.50 624.60 L208.00 624.64 L208.50 624.68 L209.00 624.72 L209.50 624.76 L210.00 624.80 L210.50 624.84 L211.00 624.88 L211.50 624.92 L212.00 624.96 L212.50 625.00 L213.00 625.04 L213.50 625.08 L214.00 625.12 L214.50 625.16 L215.00 625.20 L215.50 625.26 L216.00 625.32 L216.50 625.38 L217.00 625.44 L217.50 625.50 L218.00 625.56 L218.50 625.62 L219.00 625.68 L219.50 625.74 L220.00 625.80 L220.50 625.86 L221.00 625.92 L221.50 625.98 L222.00 626.04 L222.50 626.10 L223.00 626.16 L223.50 626.22 L224.00 626.28 L224.50 626.34 L225.00 626.40 L225.50 626.60 L226.00 626.80 L226.50 627.00 L227.00 627.20 L227.50 627.40 L228.00 627.60 L228.50 627.80 L229.00 628.00 L229.50 628.75 L230.00 629.50 L230.50 630.25 L231.00 631.00 L231.50 631.75 L232.00 632.50 L232.50 633.47 L233.00 634.44 L233.50 635.42 L234.00 637.00 L234.50 639.50 L235.00 642.60 L235.30 645.00 L235.30 621.70 Z" fill="#bdbdbd"/>
<path d="M47.80 521.64 L49.40 509.88 L51.00 499.16 L52.60 495.79 L54.20 491.71 L55.80 486.33 L57.40 483.47 L59.00 485.15 L60.60 482.07 L62.20 480.86 L63.80 483.07 L65.40 481.65 L67.00 482.89 L68.60 480.85 L70.20 480.58 L71.80 478.61 L73.40 480.78 L75.00 482.10 L76.60 481.45 L78.20 480.38 L79.80 477.55 L81.40 474.95 L83.00 477.36 L84.60 474.01 L86.20 472.44 L87.80 471.69 L89.40 474.68 L91.00 472.51 L92.60 472.08 L94.20 474.07 L95.80 474.47 L97.40 475.65 L99.00 474.34 L100.60 476.02 L102.20 474.81 L103.80 476.48 L105.40 476.19 L107.00 473.13 L108.60 472.86 L110.20 472.84 L111.80 475.78 L113.40 474.38 L115.00 475.43 L116.60 475.12 L118.20 476.62 L119.80 477.01 L121.40 477.97 L123.00 479.89 L124.60 481.01 L126.20 483.21 L127.80 483.58 L129.40 485.54 L131.00 485.59 L132.60 486.97 L134.20 488.00 L135.80 488.87 L137.40 490.71 L139.00 492.07 L140.60 493.42 L142.20 494.76 L143.80 496.47 L145.40 497.67 L147.00 499.77 L148.60 501.16 L150.20 502.53 L151.80 503.95 L153.40 506.18 L155.00 507.89 L156.60 508.77 L158.20 510.94 L159.80 512.23 L161.40 513.97 L163.00 516.09 L164.60 518.47 L166.20 520.55 L167.80 521.89 L169.40 524.34 L171.00 525.69 L172.60 527.90 L174.20 529.27 L175.80 531.39 L177.40 533.15 L179.00 534.45 L180.60 536.42 L182.20 537.26 L183.80 538.47 L185.40 540.54 L187.00 540.21 L188.60 542.37 L190.20 544.28 L191.80 545.75 L193.40 544.98 L195.00 545.11 L196.60 548.42 L198.20 547.04 L199.80 549.73 L201.40 549.44 L203.00 547.39 L204.60 547.57 L206.20 548.19 L207.80 548.67 L209.40 548.30 L211.00 547.97 L212.60 547.56 L214.20 546.28 L215.80 543.21 L217.40 542.12 L219.00 543.77 L220.60 543.13 L222.20 544.36 L223.80 546.71 L225.40 543.97 L227.00 543.94 L228.60 542.36 L230.20 543.78 L231.80 543.82 L233.40 541.40 L235.00 538.53 L235.20 537.20" fill="none" stroke="#5bb431" stroke-width="1.9" stroke-linejoin="round"/>
<g stroke="#111" fill="none" stroke-width="1"><path d="M47.5 467.5 H244.5 V647.5"/></g>
<g stroke="#111" stroke-width="1.2"><line x1="47.5" y1="467.0" x2="47.5" y2="648.1"/><line x1="46.9" y1="647.5" x2="244.5" y2="647.5"/></g>
<g stroke="#111" stroke-width="0.9"><line x1="43.8" y1="476.75" x2="47.5" y2="476.75"/><line x1="43.8" y1="487.00" x2="47.5" y2="487.00"/><line x1="43.8" y1="497.25" x2="47.5" y2="497.25"/><line x1="43.8" y1="507.50" x2="47.5" y2="507.50"/><line x1="43.8" y1="517.75" x2="47.5" y2="517.75"/><line x1="43.8" y1="528.00" x2="47.5" y2="528.00"/><line x1="43.8" y1="538.25" x2="47.5" y2="538.25"/><line x1="43.8" y1="548.50" x2="47.5" y2="548.50"/><line x1="43.8" y1="598.75" x2="47.5" y2="598.75"/><line x1="43.8" y1="610.23" x2="47.5" y2="610.23"/><line x1="43.8" y1="621.70" x2="47.5" y2="621.70"/><line x1="43.8" y1="633.18" x2="47.5" y2="633.18"/><line x1="43.8" y1="644.65" x2="47.5" y2="644.65"/><line x1="47.50" y1="647.5" x2="47.50" y2="650.8"/><line x1="66.85" y1="647.5" x2="66.85" y2="650.8"/><line x1="86.20" y1="647.5" x2="86.20" y2="650.8"/><line x1="105.55" y1="647.5" x2="105.55" y2="650.8"/><line x1="124.90" y1="647.5" x2="124.90" y2="650.8"/><line x1="144.25" y1="647.5" x2="144.25" y2="650.8"/><line x1="163.60" y1="647.5" x2="163.60" y2="650.8"/><line x1="182.95" y1="647.5" x2="182.95" y2="650.8"/><line x1="202.30" y1="647.5" x2="202.30" y2="650.8"/><line x1="221.65" y1="647.5" x2="221.65" y2="650.8"/><line x1="241.00" y1="647.5" x2="241.00" y2="650.8"/></g>
<g font-size="5.3" text-anchor="end" fill="#333"><text x="39.7" y="478.65">0.30</text><text x="39.7" y="488.90">0.25</text><text x="39.7" y="499.15">0.20</text><text x="39.7" y="509.40">0.15</text><text x="39.7" y="519.65">0.10</text><text x="39.7" y="529.90">0.05</text><text x="39.7" y="540.15">0.00</text><text x="39.7" y="550.40">−0.05</text><text x="39.7" y="600.65">1.0</text><text x="39.7" y="612.12">0.5</text><text x="39.7" y="623.60">0.0</text><text x="39.7" y="635.08">−0.5</text><text x="39.7" y="646.55">−1.0</text><text x="47.50" y="659.6" text-anchor="middle">0</text><text x="66.85" y="659.6" text-anchor="middle">2,000</text><text x="86.20" y="659.6" text-anchor="middle">4,000</text><text x="105.55" y="659.6" text-anchor="middle">6,000</text><text x="124.90" y="659.6" text-anchor="middle">8,000</text><text x="144.25" y="659.6" text-anchor="middle">10,000</text><text x="163.60" y="659.6" text-anchor="middle">12,000</text><text x="182.95" y="659.6" text-anchor="middle">14,000</text><text x="202.30" y="659.6" text-anchor="middle">16,000</text><text x="221.65" y="659.6" text-anchor="middle">18,000</text><text x="241.00" y="659.6" text-anchor="middle">20,000</text></g>
<text transform="translate(21.6,512.5) rotate(-90)" font-size="8.2" text-anchor="middle" textLength="59.4" lengthAdjust="spacingAndGlyphs" fill="#333">Enrichment score (ES)</text>
<text transform="translate(24.2,619.2) rotate(-90)" font-size="8.2" text-anchor="middle" textLength="87.4" lengthAdjust="spacingAndGlyphs" fill="#333">Ranked list metric (Signal2Noise)</text>
<text x="146.2" y="671" font-size="8" text-anchor="middle" textLength="64.7" lengthAdjust="spacingAndGlyphs" fill="#333">Rank in ordered dataset</text>
<text x="50.0" y="595.3" font-size="5.6" fill="#ee7c84" textLength="57" lengthAdjust="spacingAndGlyphs">‘DP’ (positively correlated)</text>
<text x="132" y="621.4" font-size="5.8" fill="#333" textLength="46.7" lengthAdjust="spacingAndGlyphs">Zero cross at 11207</text>
<text x="143.7" y="644.3" font-size="5.8" fill="#6a5acd" textLength="71.3" lengthAdjust="spacingAndGlyphs">‘Other’ (negatively correlated)</text>
<line x1="43.8" y1="683.3" x2="51.3" y2="683.3" stroke="#5bb431" stroke-width="1.3"/>
<text x="55" y="686.2" font-size="8.2" textLength="63.8" lengthAdjust="spacingAndGlyphs" fill="#222">Enrichment profile</text>
<line x1="125.6" y1="683.3" x2="131.6" y2="683.3" stroke="#111" stroke-width="1.5"/>
<text x="136.4" y="686.2" font-size="8.2" textLength="13.4" lengthAdjust="spacingAndGlyphs" fill="#222">Hits</text>
<line x1="157" y1="683.3" x2="164" y2="683.3" stroke="#c8c8c8" stroke-width="1.3"/>
<text x="168.7" y="686.2" font-size="8.2" textLength="75.9" lengthAdjust="spacingAndGlyphs" fill="#222">Ranking metric scores</text>
<g font-size="7.6" fill="#222"><text x="47.7" y="700.3">NES = 1.26</text><text x="47.7" y="709.5">NOM <tspan font-style="italic">P</tspan> value = .081</text><text x="47.7" y="718.5">FDR q-value = 0.047</text></g>
</g>
<!-- PANEL G -->
<g id="G">
<text x="327.5" y="459.6" font-size="9.95" fill="#222">CD117<tspan font-size="6.9" dy="-3.7">high</tspan><tspan dy="3.7">CD82</tspan><tspan font-size="6.9" dy="-3.7">high</tspan><tspan dy="3.7"> scRNA-seq clusters</tspan></text>
<text x="264.5" y="435" class="b pl" font-size="13.8" textLength="10" lengthAdjust="spacingAndGlyphs">G</text>
<text x="344.5" y="447.6" font-size="10.2" textLength="136.3" lengthAdjust="spacingAndGlyphs" fill="#222">Differential expressed genes in</text>
<g stroke="#efefef" stroke-width="0.7"><line x1="332.50" y1="467.5" x2="332.50" y2="553.7"/><line x1="332.50" y1="590.8" x2="332.50" y2="647.5"/><line x1="352.50" y1="467.5" x2="352.50" y2="553.7"/><line x1="352.50" y1="590.8" x2="352.50" y2="647.5"/><line x1="372.50" y1="467.5" x2="372.50" y2="553.7"/><line x1="372.50" y1="590.8" x2="372.50" y2="647.5"/><line x1="392.50" y1="467.5" x2="392.50" y2="553.7"/><line x1="392.50" y1="590.8" x2="392.50" y2="647.5"/><line x1="412.50" y1="467.5" x2="412.50" y2="553.7"/><line x1="412.50" y1="590.8" x2="412.50" y2="647.5"/><line x1="432.50" y1="467.5" x2="432.50" y2="553.7"/><line x1="432.50" y1="590.8" x2="432.50" y2="647.5"/><line x1="452.50" y1="467.5" x2="452.50" y2="553.7"/><line x1="452.50" y1="590.8" x2="452.50" y2="647.5"/><line x1="472.50" y1="467.5" x2="472.50" y2="553.7"/><line x1="472.50" y1="590.8" x2="472.50" y2="647.5"/><line x1="492.50" y1="467.5" x2="492.50" y2="553.7"/><line x1="492.50" y1="590.8" x2="492.50" y2="647.5"/><line x1="312.2" y1="474.10" x2="512.5" y2="474.10"/><line x1="312.2" y1="483.00" x2="512.5" y2="483.00"/><line x1="312.2" y1="491.90" x2="512.5" y2="491.90"/><line x1="312.2" y1="500.80" x2="512.5" y2="500.80"/><line x1="312.2" y1="509.70" x2="512.5" y2="509.70"/><line x1="312.2" y1="518.60" x2="512.5" y2="518.60"/><line x1="312.2" y1="536.40" x2="512.5" y2="536.40"/><line x1="312.2" y1="545.30" x2="512.5" y2="545.30"/><line x1="312.2" y1="598.75" x2="512.5" y2="598.75"/><line x1="312.2" y1="610.23" x2="512.5" y2="610.23"/><line x1="312.2" y1="633.18" x2="512.5" y2="633.18"/><line x1="312.2" y1="644.65" x2="512.5" y2="644.65"/></g>
<line x1="312.2" y1="527.5" x2="512.5" y2="527.5" stroke="#bdbdbd" stroke-width="0.8"/>
<g stroke="#d8d8e8" stroke-width="0.7"><line x1="312.2" y1="553.7" x2="512.5" y2="553.7"/><line x1="312.2" y1="590.4" x2="512.5" y2="590.4"/></g>
<g><rect x="312.10" y="555" width="1.6" height="27.6" fill="#222222"/><rect x="313.40" y="555" width="1.6" height="27.6" fill="#222222"/><rect x="315.90" y="555" width="1.6" height="27.6" fill="#5e5e5e"/><rect x="318.80" y="555" width="1.6" height="27.6" fill="#a2a2a2"/><rect x="320.70" y="555" width="1.6" height="27.6" fill="#5e5e5e"/><rect x="323.60" y="555" width="1.6" height="27.6" fill="#a2a2a2"/><rect x="326.50" y="555" width="1.6" height="27.6" fill="#5e5e5e"/><rect x="328.40" y="555" width="1.6" height="27.6" fill="#a2a2a2"/><rect x="332.20" y="555" width="1.6" height="27.6" fill="#a2a2a2"/><rect x="335.20" y="555" width="1.6" height="27.6" fill="#a2a2a2"/><rect x="338.00" y="555" width="1.6" height="27.6" fill="#222222"/><rect x="340.00" y="555" width="1.6" height="27.6" fill="#5e5e5e"/><rect x="342.90" y="555" width="1.6" height="27.6" fill="#5e5e5e"/><rect x="344.80" y="555" width="1.6" height="27.6" fill="#a2a2a2"/><rect x="347.70" y="555" width="1.6" height="27.6" fill="#a2a2a2"/><rect x="349.60" y="555" width="1.6" height="27.6" fill="#5e5e5e"/><rect x="352.50" y="555" width="1.6" height="27.6" fill="#222222"/><rect x="355.40" y="555" width="1.6" height="27.6" fill="#5e5e5e"/><rect x="357.20" y="555" width="1.6" height="27.6" fill="#a2a2a2"/><rect x="359.60" y="555" width="1.6" height="27.6" fill="#5e5e5e"/><rect x="363.00" y="555" width="1.6" height="27.6" fill="#222222"/><rect x="365.90" y="555" width="1.6" height="27.6" fill="#5e5e5e"/><rect x="368.80" y="555" width="1.6" height="27.6" fill="#a2a2a2"/><rect x="372.70" y="555" width="1.6" height="27.6" fill="#222222"/><rect x="374.60" y="555" width="1.6" height="27.6" fill="#5e5e5e"/><rect x="377.50" y="555" width="1.6" height="27.6" fill="#a2a2a2"/><rect x="380.20" y="555" width="1.6" height="27.6" fill="#a2a2a2"/><rect x="383.20" y="555" width="1.6" height="27.6" fill="#222222"/><rect x="386.10" y="555" width="1.6" height="27.6" fill="#5e5e5e"/><rect x="390.00" y="555" width="1.6" height="27.6" fill="#a2a2a2"/><rect x="392.90" y="555" width="1.6" height="27.6" fill="#a2a2a2"/><rect x="395.70" y="555" width="1.6" height="27.6" fill="#222222"/><rect x="398.60" y="555" width="1.6" height="27.6" fill="#5e5e5e"/><rect x="401.50" y="555" width="1.6" height="27.6" fill="#222222"/><rect x="404.40" y="555" width="1.6" height="27.6" fill="#5e5e5e"/><rect x="406.30" y="555" width="1.6" height="27.6" fill="#a2a2a2"/><rect x="408.40" y="555" width="1.6" height="27.6" fill="#5e5e5e"/><rect x="412.70" y="555" width="1.6" height="27.6" fill="#a2a2a2"/><rect x="415.80" y="555" width="1.6" height="27.6" fill="#222222"/><rect x="418.00" y="555" width="1.6" height="27.6" fill="#222222"/><rect x="422.20" y="555" width="1.6" height="27.6" fill="#a2a2a2"/><rect x="424.30" y="555" width="1.6" height="27.6" fill="#a2a2a2"/><rect x="427.90" y="555" width="1.6" height="27.6" fill="#222222"/><rect x="430.60" y="555" width="1.6" height="27.6" fill="#5e5e5e"/><rect x="433.80" y="555" width="1.6" height="27.6" fill="#a2a2a2"/><rect x="435.90" y="555" width="1.6" height="27.6" fill="#222222"/><rect x="439.10" y="555" width="1.6" height="27.6" fill="#5e5e5e"/><rect x="442.30" y="555" width="1.6" height="27.6" fill="#a2a2a2"/><rect x="445.50" y="555" width="1.6" height="27.6" fill="#222222"/><rect x="448.60" y="555" width="1.6" height="27.6" fill="#5e5e5e"/><rect x="452.90" y="555" width="1.6" height="27.6" fill="#a2a2a2"/><rect x="455.00" y="555" width="1.6" height="27.6" fill="#222222"/><rect x="458.10" y="555" width="1.6" height="27.6" fill="#5e5e5e"/><rect x="460.30" y="555" width="1.6" height="27.6" fill="#a2a2a2"/><rect x="463.40" y="555" width="1.6" height="27.6" fill="#5e5e5e"/><rect x="465.50" y="555" width="1.6" height="27.6" fill="#5e5e5e"/><rect x="469.80" y="555" width="1.6" height="27.6" fill="#222222"/><rect x="471.90" y="555" width="1.6" height="27.6" fill="#5e5e5e"/><rect x="475.10" y="555" width="1.6" height="27.6" fill="#a2a2a2"/><rect x="477.20" y="555" width="1.6" height="27.6" fill="#222222"/><rect x="480.40" y="555" width="1.6" height="27.6" fill="#a2a2a2"/><rect x="483.50" y="555" width="1.6" height="27.6" fill="#5e5e5e"/><rect x="486.70" y="555" width="1.6" height="27.6" fill="#222222"/><rect x="488.80" y="555" width="1.6" height="27.6" fill="#5e5e5e"/><rect x="492.00" y="555" width="1.6" height="27.6" fill="#a2a2a2"/><rect x="495.20" y="555" width="1.6" height="27.6" fill="#222222"/><rect x="498.30" y="555" width="1.6" height="27.6" fill="#222222"/><rect x="501.10" y="555" width="1.6" height="27.6" fill="#222222"/></g>
<defs><linearGradient id="cbG" x1="0" x2="1" y1="0" y2="0"><stop offset="0.000" stop-color="#e5363e"/><stop offset="0.240" stop-color="#e6424b"/><stop offset="0.277" stop-color="#e75560"/><stop offset="0.355" stop-color="#e8687a"/><stop offset="0.418" stop-color="#e8849c"/><stop offset="0.460" stop-color="#e8a2c6"/><stop offset="0.565" stop-color="#e4aad0"/><stop offset="0.575" stop-color="#cbc3ea"/><stop offset="0.748" stop-color="#c2bbe6"/><stop offset="0.759" stop-color="#7c6cc2"/><stop offset="0.827" stop-color="#7060ba"/><stop offset="0.832" stop-color="#5746a8"/><stop offset="0.948" stop-color="#5242a4"/><stop offset="0.953" stop-color="#3c248f"/><stop offset="1.000" stop-color="#361f8c"/></linearGradient></defs>
<rect x="312.2" y="582.6" width="190.80" height="7.20" fill="url(#cbG)"/>
<path d="M312.20 619.30 L312.20 600.50 L312.70 601.44 L313.20 602.25 L313.70 602.88 L314.20 603.50 L314.70 604.12 L315.20 604.67 L315.70 605.08 L316.20 605.50 L316.70 605.92 L317.20 606.33 L317.70 606.75 L318.20 607.08 L318.70 607.26 L319.20 607.45 L319.70 607.64 L320.20 607.83 L320.70 608.01 L321.20 608.20 L321.70 608.39 L322.20 608.54 L322.70 608.63 L323.20 608.73 L323.70 608.82 L324.20 608.91 L324.70 609.01 L325.20 609.10 L325.70 609.19 L326.20 609.29 L326.70 609.38 L327.20 609.48 L327.70 609.57 L328.20 609.66 L328.70 609.76 L329.20 609.85 L329.70 609.94 L330.20 610.02 L330.70 610.07 L331.20 610.12 L331.70 610.17 L332.20 610.22 L332.70 610.27 L333.20 610.32 L333.70 610.37 L334.20 610.42 L334.70 610.47 L335.20 610.52 L335.70 610.57 L336.20 610.62 L336.70 610.67 L337.20 610.72 L337.70 610.77 L338.20 610.82 L338.70 610.87 L339.20 610.92 L339.70 610.97 L340.20 611.01 L340.70 611.05 L341.20 611.09 L341.70 611.12 L342.20 611.16 L342.70 611.19 L343.20 611.23 L343.70 611.27 L344.20 611.30 L344.70 611.34 L345.20 611.38 L345.70 611.41 L346.20 611.45 L346.70 611.48 L347.20 611.52 L347.70 611.56 L348.20 611.59 L348.70 611.63 L349.20 611.66 L349.70 611.70 L350.20 611.74 L350.70 611.77 L351.20 611.81 L351.70 611.84 L352.20 611.88 L352.70 611.92 L353.20 611.95 L353.70 611.99 L354.20 612.03 L354.70 612.06 L355.20 612.10 L355.70 612.13 L356.20 612.17 L356.70 612.21 L357.20 612.24 L357.70 612.28 L358.20 612.31 L358.70 612.34 L359.20 612.37 L359.70 612.40 L360.20 612.43 L360.70 612.46 L361.20 612.49 L361.70 612.52 L362.20 612.55 L362.70 612.58 L363.20 612.61 L363.70 612.64 L364.20 612.67 L364.70 612.70 L365.20 612.73 L365.70 612.75 L366.20 612.78 L366.70 612.81 L367.20 612.84 L367.70 612.87 L368.20 612.90 L368.70 612.93 L369.20 612.96 L369.70 612.99 L370.20 613.02 L370.70 613.05 L371.20 613.08 L371.70 613.11 L372.20 613.14 L372.70 613.17 L373.20 613.20 L373.70 613.23 L374.20 613.26 L374.70 613.29 L375.20 613.32 L375.70 613.35 L376.20 613.38 L376.70 613.40 L377.20 613.43 L377.70 613.46 L378.20 613.49 L378.70 613.52 L379.20 613.55 L379.70 613.58 L380.20 613.61 L380.70 613.65 L381.20 613.68 L381.70 613.72 L382.20 613.75 L382.70 613.79 L383.20 613.82 L383.70 613.86 L384.20 613.89 L384.70 613.93 L385.20 613.96 L385.70 614.00 L386.20 614.03 L386.70 614.07 L387.20 614.10 L387.70 614.14 L388.20 614.17 L388.70 614.21 L389.20 614.24 L389.70 614.28 L390.20 614.31 L390.70 614.35 L391.20 614.38 L391.70 614.42 L392.20 614.45 L392.70 614.49 L393.20 614.52 L393.70 614.56 L394.20 614.59 L394.70 614.63 L395.20 614.66 L395.70 614.70 L396.20 614.73 L396.70 614.77 L397.20 614.80 L397.70 614.84 L398.20 614.87 L398.70 614.91 L399.20 614.94 L399.70 614.98 L400.20 615.02 L400.70 615.07 L401.20 615.12 L401.70 615.17 L402.20 615.22 L402.70 615.27 L403.20 615.32 L403.70 615.37 L404.20 615.42 L404.70 615.47 L405.20 615.52 L405.70 615.57 L406.20 615.62 L406.70 615.67 L407.20 615.72 L407.70 615.77 L408.20 615.82 L408.70 615.87 L409.20 615.92 L409.70 615.97 L410.20 616.02 L410.70 616.07 L411.20 616.12 L411.70 616.17 L412.20 616.22 L412.70 616.27 L413.20 616.32 L413.70 616.37 L414.20 616.42 L414.70 616.47 L415.20 616.52 L415.70 616.57 L416.20 616.62 L416.70 616.67 L417.20 616.72 L417.70 616.77 L418.20 616.82 L418.70 616.87 L419.20 616.92 L419.70 616.97 L420.20 617.02 L420.70 617.08 L421.20 617.14 L421.70 617.20 L422.20 617.25 L422.70 617.31 L423.20 617.37 L423.70 617.43 L424.20 617.48 L424.70 617.54 L425.20 617.60 L425.70 617.66 L426.20 617.71 L426.70 617.77 L427.20 617.83 L427.70 617.89 L428.20 617.94 L428.70 618.00 L429.20 618.06 L429.70 618.12 L430.20 618.17 L430.70 618.23 L431.20 618.29 L431.70 618.35 L432.20 618.40 L432.70 618.46 L433.20 618.52 L433.70 618.58 L434.20 618.63 L434.70 618.69 L435.20 618.75 L435.70 618.81 L436.20 618.86 L436.70 618.92 L437.20 618.98 L437.70 619.04 L438.20 619.09 L438.70 619.15 L439.20 619.21 L439.70 619.27 L440.20 619.32 L440.70 619.36 L441.20 619.40 L441.70 619.44 L442.20 619.49 L442.70 619.53 L443.20 619.57 L443.70 619.61 L444.20 619.66 L444.70 619.70 L445.20 619.74 L445.70 619.78 L446.20 619.83 L446.70 619.87 L447.20 619.91 L447.70 619.95 L448.20 620.00 L448.70 620.04 L449.20 620.08 L449.70 620.12 L450.20 620.17 L450.70 620.21 L451.20 620.25 L451.70 620.29 L452.20 620.34 L452.70 620.38 L453.20 620.42 L453.70 620.46 L454.20 620.51 L454.70 620.55 L455.20 620.59 L455.70 620.63 L456.20 620.68 L456.70 620.72 L457.20 620.76 L457.70 620.80 L458.20 620.85 L458.70 620.89 L459.20 620.93 L459.70 620.97 L460.20 621.06 L460.70 621.21 L461.20 621.36 L461.70 621.51 L462.20 621.66 L462.70 621.81 L463.20 621.96 L463.70 622.11 L464.20 622.26 L464.70 622.41 L465.20 622.56 L465.70 622.71 L466.20 622.86 L466.70 623.01 L467.20 623.16 L467.70 623.31 L468.20 623.46 L468.70 623.61 L469.20 623.76 L469.70 623.91 L470.20 624.03 L470.70 624.12 L471.20 624.20 L471.70 624.28 L472.20 624.37 L472.70 624.45 L473.20 624.53 L473.70 624.62 L474.20 624.70 L474.70 624.78 L475.20 624.87 L475.70 624.95 L476.20 625.03 L476.70 625.12 L477.20 625.20 L477.70 625.28 L478.20 625.37 L478.70 625.45 L479.20 625.53 L479.70 625.62 L480.20 625.70 L480.70 625.78 L481.20 625.87 L481.70 625.95 L482.20 626.03 L482.70 626.12 L483.20 626.20 L483.70 626.28 L484.20 626.37 L484.70 626.45 L485.20 626.53 L485.70 626.61 L486.20 626.68 L486.70 626.75 L487.20 626.83 L487.70 626.90 L488.20 626.98 L488.70 627.05 L489.20 627.13 L489.70 627.21 L490.20 627.28 L490.70 627.36 L491.20 627.43 L491.70 627.50 L492.20 627.58 L492.70 627.65 L493.20 627.73 L493.70 627.80 L494.20 627.88 L494.70 627.96 L495.20 628.10 L495.70 628.35 L496.20 628.60 L496.70 628.85 L497.20 629.10 L497.70 629.35 L498.20 629.60 L498.70 629.85 L499.20 630.32 L499.70 631.12 L500.20 631.92 L500.70 632.72 L501.20 633.52 L501.70 635.20 L502.20 638.20 L502.70 641.60 L503.00 644.00 L503.00 619.30 Z" fill="#bdbdbd"/>
<path d="M312.50 509.86 L314.10 499.18 L315.70 493.95 L317.30 491.41 L318.90 489.10 L320.50 480.09 L322.10 477.29 L323.70 475.30 L325.30 474.07 L326.90 473.53 L328.50 472.87 L330.10 473.57 L331.70 474.51 L333.30 475.50 L334.90 475.59 L336.50 476.31 L338.10 476.72 L339.70 473.33 L341.30 472.58 L342.90 471.97 L344.50 472.79 L346.10 472.52 L347.70 474.05 L349.30 474.62 L350.90 475.52 L352.50 475.89 L354.10 476.27 L355.70 477.19 L357.30 477.32 L358.90 478.27 L360.50 478.90 L362.10 478.45 L363.70 478.35 L365.30 478.13 L366.90 478.32 L368.50 479.01 L370.10 480.19 L371.70 480.79 L373.30 481.30 L374.90 481.92 L376.50 482.21 L378.10 482.58 L379.70 483.62 L381.30 484.18 L382.90 484.46 L384.50 485.36 L386.10 486.43 L387.70 488.03 L389.30 489.23 L390.90 490.20 L392.50 492.07 L394.10 492.70 L395.70 494.21 L397.30 495.68 L398.90 496.40 L400.50 497.87 L402.10 498.71 L403.70 500.41 L405.30 501.72 L406.90 502.97 L408.50 504.61 L410.10 505.56 L411.70 507.27 L413.30 508.59 L414.90 509.98 L416.50 511.28 L418.10 512.98 L419.70 514.47 L421.30 515.49 L422.90 517.04 L424.50 517.96 L426.10 519.87 L427.70 521.23 L429.30 522.91 L430.90 524.17 L432.50 525.14 L434.10 526.62 L435.70 528.16 L437.30 528.84 L438.90 530.39 L440.50 531.36 L442.10 532.52 L443.70 533.67 L445.30 535.40 L446.90 535.89 L448.50 536.99 L450.10 538.10 L451.70 539.48 L453.30 539.85 L454.90 541.15 L456.50 541.98 L458.10 543.72 L459.70 544.10 L461.30 544.85 L462.90 543.46 L464.50 544.52 L466.10 544.79 L467.70 546.98 L469.30 547.63 L470.90 545.29 L472.50 545.77 L474.10 546.36 L475.70 546.66 L477.30 547.68 L478.90 548.19 L480.50 547.24 L482.10 546.52 L483.70 548.09 L485.30 547.85 L486.90 547.40 L488.50 547.59 L490.10 545.61 L491.70 544.37 L493.30 544.08 L494.90 543.64 L496.50 540.73 L498.10 542.01 L499.70 540.00 L501.30 536.07 L502.90 530.95 L503.70 527.50" fill="none" stroke="#5bb431" stroke-width="1.9" stroke-linejoin="round"/>
<g stroke="#111" fill="none" stroke-width="1"><path d="M312.2 467.5 H512.5 V647.5"/></g>
<g stroke="#111" stroke-width="1.2"><line x1="312.2" y1="467.0" x2="312.2" y2="648.1"/><line x1="311.59999999999997" y1="647.5" x2="512.5" y2="647.5"/></g>
<g stroke="#111" stroke-width="0.9"><line x1="308.5" y1="474.10" x2="312.2" y2="474.10"/><line x1="308.5" y1="483.00" x2="312.2" y2="483.00"/><line x1="308.5" y1="491.90" x2="312.2" y2="491.90"/><line x1="308.5" y1="500.80" x2="312.2" y2="500.80"/><line x1="308.5" y1="509.70" x2="312.2" y2="509.70"/><line x1="308.5" y1="518.60" x2="312.2" y2="518.60"/><line x1="308.5" y1="527.50" x2="312.2" y2="527.50"/><line x1="308.5" y1="536.40" x2="312.2" y2="536.40"/><line x1="308.5" y1="545.30" x2="312.2" y2="545.30"/><line x1="308.5" y1="598.75" x2="312.2" y2="598.75"/><line x1="308.5" y1="610.23" x2="312.2" y2="610.23"/><line x1="308.5" y1="621.70" x2="312.2" y2="621.70"/><line x1="308.5" y1="633.18" x2="312.2" y2="633.18"/><line x1="308.5" y1="644.65" x2="312.2" y2="644.65"/><line x1="312.50" y1="647.5" x2="312.50" y2="650.8"/><line x1="332.50" y1="647.5" x2="332.50" y2="650.8"/><line x1="352.50" y1="647.5" x2="352.50" y2="650.8"/><line x1="372.50" y1="647.5" x2="372.50" y2="650.8"/><line x1="392.50" y1="647.5" x2="392.50" y2="650.8"/><line x1="412.50" y1="647.5" x2="412.50" y2="650.8"/><line x1="432.50" y1="647.5" x2="432.50" y2="650.8"/><line x1="452.50" y1="647.5" x2="452.50" y2="650.8"/><line x1="472.50" y1="647.5" x2="472.50" y2="650.8"/><line x1="492.50" y1="647.5" x2="492.50" y2="650.8"/></g>
<g font-size="5.3" text-anchor="end" fill="#333"><text x="304.4" y="476.00">0.30</text><text x="304.4" y="484.90">0.25</text><text x="304.4" y="493.80">0.20</text><text x="304.4" y="502.70">0.15</text><text x="304.4" y="511.60">0.10</text><text x="304.4" y="520.50">0.05</text><text x="304.4" y="529.40">0.00</text><text x="304.4" y="538.30">−0.05</text><text x="304.4" y="547.20">−0.10</text><text x="304.4" y="600.65">1.0</text><text x="304.4" y="612.12">0.5</text><text x="304.4" y="623.60">0.0</text><text x="304.4" y="635.08">−0.5</text><text x="304.4" y="646.55">−1.0</text><text x="312.50" y="659.6" text-anchor="middle">0</text><text x="332.50" y="659.6" text-anchor="middle">2,000</text><text x="352.50" y="659.6" text-anchor="middle">4,000</text><text x="372.50" y="659.6" text-anchor="middle">6,000</text><text x="392.50" y="659.6" text-anchor="middle">8,000</text><text x="412.50" y="659.6" text-anchor="middle">10,000</text><text x="432.50" y="659.6" text-anchor="middle">12,000</text><text x="452.50" y="659.6" text-anchor="middle">14,000</text><text x="472.50" y="659.6" text-anchor="middle">16,000</text><text x="492.50" y="659.6" text-anchor="middle">18,000</text></g>
<text transform="translate(286.6,512.5) rotate(-90)" font-size="8.2" text-anchor="middle" textLength="60" lengthAdjust="spacingAndGlyphs" fill="#333">Enrichment score (ES)</text>
<text transform="translate(289.2,619.2) rotate(-90)" font-size="8.2" text-anchor="middle" textLength="87.4" lengthAdjust="spacingAndGlyphs" fill="#333">Ranked list metric (Signal2Noise)</text>
<text x="412.4" y="671" font-size="8" text-anchor="middle" textLength="64.7" lengthAdjust="spacingAndGlyphs" fill="#333">Rank in ordered dataset</text>
<text x="314.7" y="595.3" font-size="5.6" fill="#ee7c84" textLength="60" lengthAdjust="spacingAndGlyphs">‘DP’ (positively correlated)</text>
<text x="397" y="621.4" font-size="5.8" fill="#333" textLength="46.7" lengthAdjust="spacingAndGlyphs">Zero cross at 10742</text>
<text x="408.8" y="644.3" font-size="5.8" fill="#6a5acd" textLength="70.7" lengthAdjust="spacingAndGlyphs">‘Other’ (negatively correlated)</text>
<line x1="307.7" y1="683.3" x2="315.2" y2="683.3" stroke="#5bb431" stroke-width="1.3"/>
<text x="319.9" y="686.2" font-size="8.2" textLength="63.8" lengthAdjust="spacingAndGlyphs" fill="#222">Enrichment profile</text>
<line x1="389.6" y1="683.3" x2="395.6" y2="683.3" stroke="#111" stroke-width="1.5"/>
<text x="401.6" y="686.2" font-size="8.2" textLength="13.4" lengthAdjust="spacingAndGlyphs" fill="#222">Hits</text>
<line x1="422.5" y1="683.3" x2="429.5" y2="683.3" stroke="#c8c8c8" stroke-width="1.3"/>
<text x="434" y="686.2" font-size="8.2" textLength="75.9" lengthAdjust="spacingAndGlyphs" fill="#222">Ranking metric scores</text>
<g font-size="7.6" fill="#222"><text x="312.3" y="700.3">NES = 1.33</text><text x="312.3" y="709.5">NOM <tspan font-style="italic">P</tspan> value = .039</text><text x="312.3" y="718.5">FDR q-value = 0.053</text></g>
</g>
<!-- END FG -->
</svg>
</body></html>
